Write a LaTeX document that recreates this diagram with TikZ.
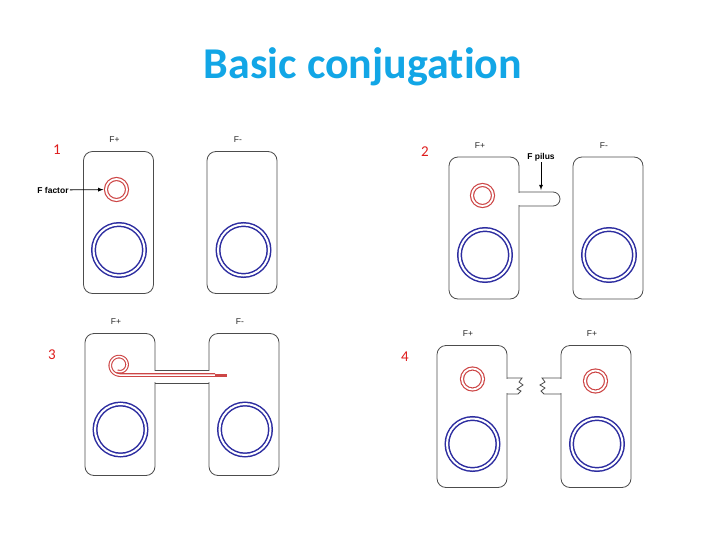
\documentclass[tikz,border=0pt]{standalone}
\usepackage{fontspec}
\setmainfont{Carlito}[Ligatures=NoCommon]
\newfontfamily\arialfont{Liberation Sans}
\usepackage{xcolor}
\usepackage{tikz}
\usetikzlibrary{positioning}
\usetikzlibrary{arrows}
\definecolor{titleblue}{RGB}{18,166,230}
\definecolor{numred}{RGB}{222,28,28}
\definecolor{plasmid}{RGB}{205,70,70}
\definecolor{chromo}{RGB}{45,45,160}
\tikzstyle{cell}=[rectangle,draw=black!70,rounded corners=9pt,minimum width=70pt,minimum height=142pt,inner sep=0pt,line width=0.8pt]
\tikzstyle{wall}=[draw=black!70,line width=0.8pt]
\tikzstyle{chrom}=[circle,draw=chromo,double=white,double distance=2pt,line width=1.5pt,minimum size=51pt,inner sep=0pt]
\tikzstyle{fplasmid}=[circle,draw=plasmid,double=white,double distance=1.8pt,line width=1.2pt,minimum size=21pt,inner sep=0pt]
\tikzstyle{strand}=[draw=plasmid,double=white,double distance=1.5pt,line width=1.1pt]
\tikzstyle{ftype}=[font=\arialfont\fontsize{8.5}{10}\selectfont,text=black!85]
\tikzstyle{panelnum}=[font=\fontsize{15}{18}\selectfont,text=numred]
\tikzstyle{tag}=[font=\arialfont\bfseries\fontsize{8.5}{10}\selectfont,inner sep=1pt]
\tikzset{pointer/.style={draw,thick,-latex}}

\begin{document}
\begin{tikzpicture}[x=1pt,y=-1pt]
    \useasboundingbox (0,0) rectangle (728,546);
    \node[font=\bfseries\fontsize{44}{50}\selectfont,text=titleblue,anchor=base] (title) at (363,78) {Basic conjugation};

    % First we draw the cells
    \foreach \pos/\name in {{(118.5,222.5)/c1l}, {(242,222.5)/c1r},
    {(484,228)/c2l}, {(608,228)/c2r}, {(120,404.5)/c3l}, {(244,404.5)/c3r},
    {(472,416.5)/c4l}, {(596,416.5)/c4r}}
        \node[cell] (\name) at \pos {};

    \foreach \name/\label in {c1l/F+, c1r/F-, c2l/F+, c2r/F-, c3l/F+, c3r/F-, c4l/F+, c4r/F+}
        \node[ftype, above=5pt of \name, xshift=-4pt] (t\name) {\label};

    \foreach \pos/\name/\label in {{(57,150)/n1/1}, {(425,152)/n2/2},
    {(52,355)/n3/3}, {(405,357)/n4/4}}
        \node[panelnum] (\name) at \pos {\label};

    % chromosomes and F factors
    \foreach \pos/\name in {{(119,250)/b1l}, {(243.5,250)/b1r}, {(485,255)/b2l},
    {(609,255)/b2r}, {(120.5,429.5)/b3l}, {(245,429.5)/b3r}, {(472.5,444)/b4l},
    {(597,444)/b4r}}
        \node[chrom] (\name) at \pos {};
    \foreach \pos/\name in {{(116.5,189.5)/p1}, {(482.5,195.5)/p2},
    {(472.5,379)/p4l}, {(595.5,381)/p4r}}
        \node[fplasmid] (\name) at \pos {};

    % 1: F factor
    \node[tag] (ffac) at (53,190) {F factor};
    \path[pointer, shorten >=2pt] (ffac) -- (p1);

    % 2: F pilus
    \fill[white] (518,192.6) rectangle (520,205.4);
    \draw[wall] (519,192) -- (553,192) arc[start angle=-90,end angle=90,radius=7] -- (519,206);
    \node[tag] (fpil) at (541,157) {F pilus};
    \coordinate (ptip) at (541,190);
    \path[pointer] (fpil) -- (ptip);

    % 3: bridge and transfer of the F factor
    \fill[white] (154,370.6) rectangle (210,382.4);
    \draw[wall] (155,370) -- (209,370) (155,383) -- (209,383);
    \draw[strand] plot[domain=-470:-90, samples=80, smooth]
        ({119.5+(6.5+3.5*(\x+470)/380)*cos(\x)}, {365-(6.5+3.5*(\x+470)/380)*sin(\x)}) -- (215,375);
    \draw[plasmid, line width=3pt] (215,375) -- (227,375);

    % 4: broken bridge
    \fill[white] (506,378.6) rectangle (508,393.4);
    \draw[wall] (507,378) -- (522,378) -- (519,382) -- (523,385) -- (517,389) -- (521,391) -- (518,394) -- (507,394);
    \fill[white] (560,378.6) rectangle (562,393.4);
    \draw[wall] (561,378) -- (542,378) -- (545,382) -- (540,385) -- (545,388) -- (541,391) -- (544,394) -- (561,394);
\end{tikzpicture}
\end{document}
